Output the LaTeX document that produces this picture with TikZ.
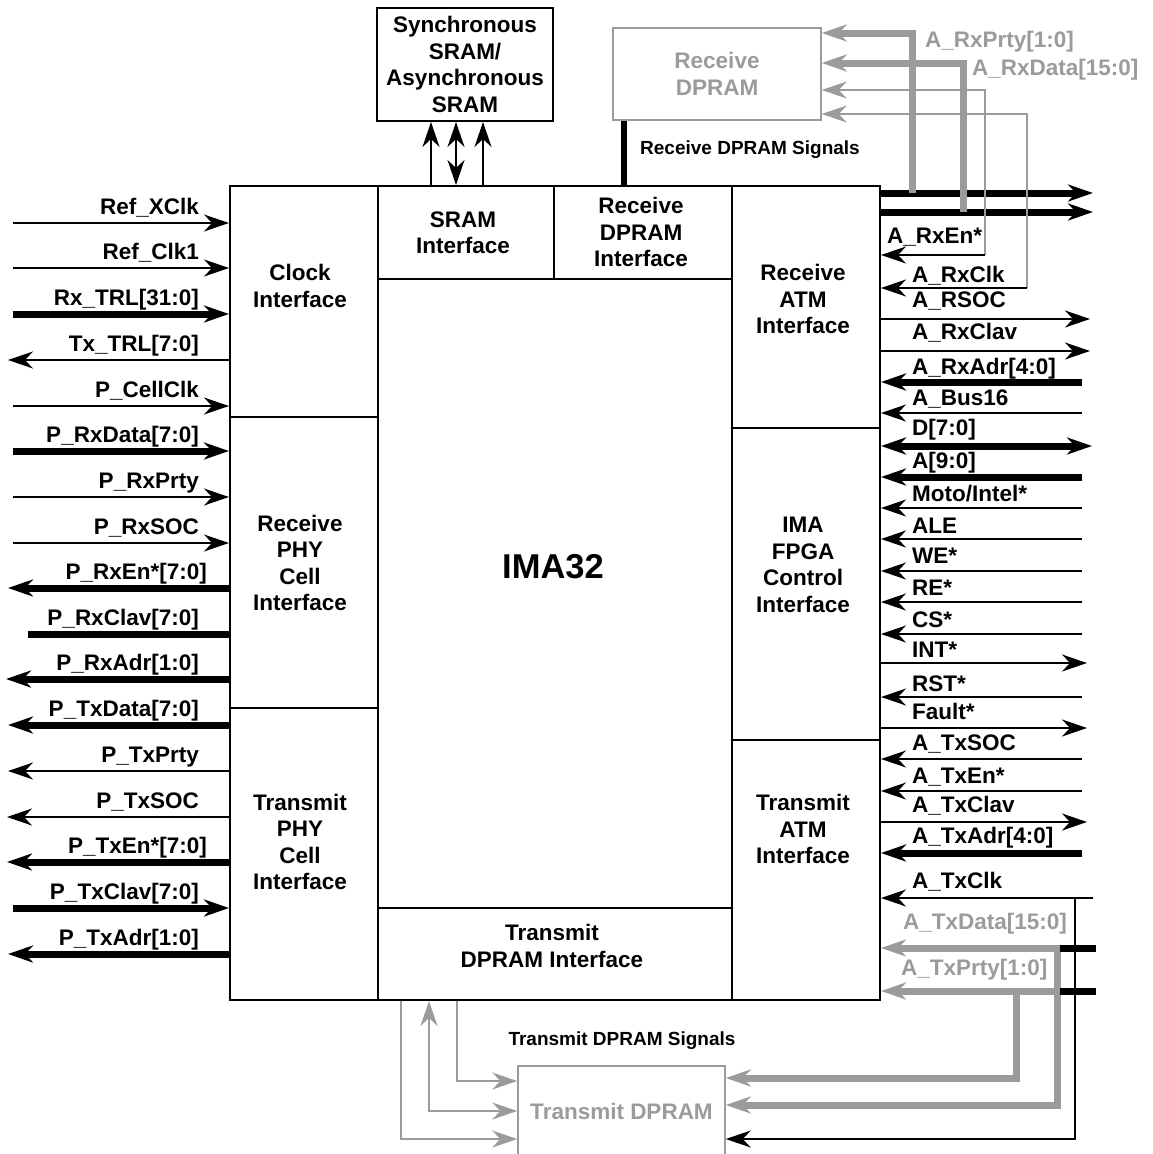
\documentclass[tikz,border=0pt]{standalone}
\usepackage{fontspec}
\setmainfont{Liberation Sans}
\usetikzlibrary{arrows.meta}
\definecolor{dpgray}{RGB}{155,155,155}

\tikzset{
  >={Stealth[length=25pt,width=17pt,inset=8pt]},
  txt/.style={font=\bfseries\fontsize{22.5}{26.5}\selectfont, inner sep=0pt, align=center},
  small/.style={font=\bfseries\fontsize{19}{22}\selectfont, inner sep=0pt},
  frame/.style={line width=2pt},
  sig/.style={line width=1.6pt},
  bus/.style={line width=7pt},
  sin/.style={sig,->},
  sout/.style={sig,<-},
  bin/.style={bus,->},
  bout/.style={bus,<-},
  bboth/.style={bus,<->},
  bnone/.style={bus},
  gsig/.style={dpgray, line width=1.6pt},
  gbus/.style={dpgray, line width=7pt},
}

\begin{document}
\begin{tikzpicture}[x=1pt,y=-1pt]
\useasboundingbox (0,0) rectangle (1152,1154);

% IMA32 core
\node[draw, frame, minimum width=650pt, minimum height=814pt, inner sep=0pt] (ima) at (555,593) {};
\draw[frame] (378,186) -- (378,1000);
\draw[frame] (732,186) -- (732,1000);
\draw[frame] (230,417) -- (378,417);
\draw[frame] (230,708) -- (378,708);
\draw[frame] (378,279) -- (732,279);
\draw[frame] (554,186) -- (554,279);
\draw[frame] (732,428) -- (880,428);
\draw[frame] (732,740) -- (880,740);
\draw[frame] (378,908) -- (732,908);

\node[font=\bfseries\fontsize{34.5}{40}\selectfont, inner sep=0pt] (core) at (553,567) {IMA32};
\node[txt] (clkif) at (300,286) {Clock\\Interface};
\node[txt] (rxphy) at (300,563) {Receive\\PHY\\Cell\\Interface};
\node[txt] (txphy) at (300,842) {Transmit\\PHY\\Cell\\Interface};
\node[txt] (sramif) at (463,233) {SRAM\\Interface};
\node[txt] (rxdpif) at (641,232) {Receive\\DPRAM\\Interface};
\node[txt] (rxatm) at (803,299) {Receive\\ATM\\Interface};
\node[txt] (fpga) at (803,565) {IMA\\FPGA\\Control\\Interface};
\node[txt] (txatm) at (803,829) {Transmit\\ATM\\Interface};
\node[txt] (txdpif) at (552,946) {Transmit\\DPRAM Interface};

% SRAM
\node[draw, frame, txt, minimum width=176pt, minimum height=113pt] (sram) at (465,64.5) {Synchronous\\SRAM/\\Asynchronous\\SRAM};
\draw[sig,->] (ima.north -| 431,0) -- (sram.south -| 431,0);
\draw[sig,<->] (ima.north -| 456,0) -- (sram.south -| 456,0);
\draw[sig,->] (ima.north -| 483,0) -- (sram.south -| 483,0);

% Receive DPRAM
\node[draw=dpgray, line width=1.5pt, txt, text=dpgray, minimum width=208pt, minimum height=92pt] (rxdp) at (717,74) {Receive\\DPRAM};
\draw[line width=6pt] (rxdp.south -| 624,0) -- (ima.north -| 624,0);
\node[small, anchor=west] (rxsig) at (640,150) {Receive DPRAM Signals};
\coordinate (rxp) at (1093,193);
\coordinate (rxd) at (1093,212);
\draw[bus,->] (ima.east |- rxp) -- (rxp);
\draw[bus,->] (ima.east |- rxd) -- (rxd);
\draw[gbus,->] (912,193) |- (rxdp.east |- 0,33);
\draw[gbus,->] (963,212) |- (rxdp.east |- 0,63);
\draw[gsig,->] (985,255) |- (rxdp.east |- 0,90);
\draw[gsig,->] (1027,288) |- (rxdp.east |- 0,114);
\node[txt, text=dpgray, anchor=base west] (rxprty) at (925,47) {A\_RxPrty[1:0]};
\node[txt, text=dpgray, anchor=base west] (rxdata) at (972,75) {A\_RxData[15:0]};

% PHY side
\foreach \y/\txt/\kind/\xs/\xe in {
  223/{Ref\_XClk}/sin/13/199, 268/{Ref\_Clk1}/sin/13/199,
  314/{Rx\_TRL[31:0]}/bin/13/199, 360/{Tx\_TRL[7:0]}/sout/8/199,
  406/{P\_CellClk}/sin/13/199, 451/{P\_RxData[7:0]}/bin/13/199,
  497/{P\_RxPrty}/sin/13/199, 543/{P\_RxSOC}/sin/13/199,
  588/{P\_RxEn*[7:0]}/bout/8/207, 634/{P\_RxClav[7:0]}/bnone/28/199,
  679/{P\_RxAdr[1:0]}/bout/6/199, 725/{P\_TxData[7:0]}/bout/8/199,
  771/{P\_TxPrty}/sout/8/199, 817/{P\_TxSOC}/sout/7/199,
  862/{P\_TxEn*[7:0]}/bout/7/207, 908/{P\_TxClav[7:0]}/bin/13/199,
  954/{P\_TxAdr[1:0]}/bout/8/199}
{
  \coordinate (L\y) at (\xs,\y);
  \draw[\kind] (L\y) -- (L\y -| ima.west);
  \node[txt, anchor=base east] (Lt\y) at (\xe,\y-9) {\txt};
}

% ATM side
\foreach \y/\lb/\txt/\kind/\xe/\xl in {
  255/243/{A\_RxEn*}/sin/985/887, 288/282/{A\_RxClk}/sin/1027/912,
  319/307/{A\_RSOC}/sout/1090/912, 351/339/{A\_RxClav}/sout/1090/912,
  382/374/{A\_RxAdr[4:0]}/bin/1082/912, 413/405/{A\_Bus16}/sin/1082/912,
  446/435/{D[7:0]}/bboth/1092/912, 477/468/{A[9:0]}/bin/1082/912,
  508/501/{Moto/Intel*}/sin/1082/912, 539/533/{ALE}/sin/1082/912,
  571/563/{WE*}/sin/1082/912, 602/595/{RE*}/sin/1082/912,
  634/627/{CS*}/sin/1082/912, 663/657/{INT*}/sout/1087/912,
  697/691/{RST*}/sin/1082/912, 728/719/{Fault*}/sout/1087/912,
  759/750/{A\_TxSOC}/sin/1082/912, 791/783/{A\_TxEn*}/sin/1082/912,
  822/812/{A\_TxClav}/sout/1087/912, 853/843/{A\_TxAdr[4:0]}/bin/1082/912,
  898/888/{A\_TxClk}/sin/1093/912}
{
  \coordinate (R\y) at (\xe,\y);
  \draw[\kind] (R\y) -- (R\y -| ima.east);
  \node[txt, anchor=base west] (Rt\y) at (\xl,\lb) {\txt};
}

% Transmit DPRAM
\node[draw=dpgray, line width=1.5pt, txt, text=dpgray, minimum width=207pt, minimum height=90pt] (txdp) at (621.5,1111) {Transmit DPRAM};
\node[small] (txsig) at (622,1041) {Transmit DPRAM Signals};
\draw[gsig,->] (ima.south -| 401,0) |- (txdp.west |- 0,1139);
\draw[gsig,<->] (ima.south -| 429,0) |- (txdp.west |- 0,1111);
\draw[gsig,->] (ima.south -| 457,0) |- (txdp.west |- 0,1081);
\draw[gbus] (1016,991) -- (1057,991);
\draw[gbus,<->] (ima.east |- 0,948) -- (1057,948) |- (txdp.east |- 0,1105);
\draw[gbus,<->] (ima.east |- 0,991) -- (1016,991) |- (txdp.east |- 0,1078);
\draw[bus] (1060,948) -- (1096,948);
\draw[bus] (1060,991) -- (1096,991);
\draw[sig,->] (1075,898) |- (txdp.east |- 0,1139);
\node[txt, text=dpgray, anchor=base west] (txdata) at (903,929) {A\_TxData[15:0]};
\node[txt, text=dpgray, anchor=base west] (txprty) at (901,975) {A\_TxPrty[1:0]};
\end{tikzpicture}
\end{document}
